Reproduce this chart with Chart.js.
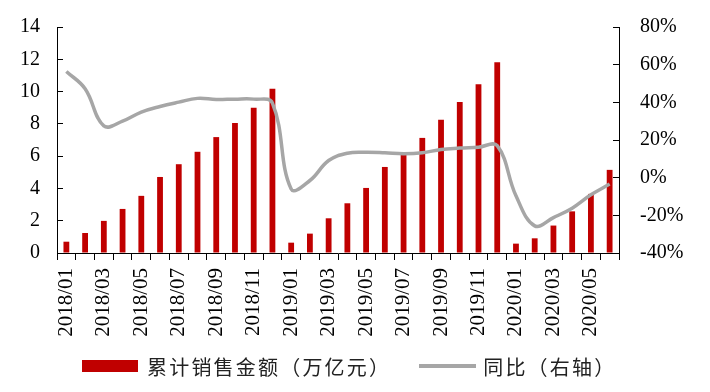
<!DOCTYPE html>
<html>
<head>
<meta charset="utf-8">
<script src="https://cdn.jsdelivr.net/npm/chart.js@4/dist/chart.umd.min.js"></script>
<style>
  body { margin: 0; background: #fff; }
  #wrap { position: relative; width: 710px; height: 392px; }
  #legend {
    position: absolute; left: 82px; top: 354px; height: 24px;
    display: flex; align-items: center;
    font-family: "Noto Sans CJK SC", sans-serif; font-size: 20px; color: #222;
    letter-spacing: 2.2px;
  }
  #legend .box { width: 56px; height: 12px; background: #C00000; margin-right: 9px; }
  #legend .ln { width: 57px; height: 4px; background: #A6A6A6; margin-left: 28px; margin-right: 7px; }
</style>
</head>
<body>
<div id="wrap">
  <canvas id="chart" width="710" height="392"></canvas>
  <div id="legend"><span class="box"></span><span>累计销售金额（万亿元）</span><span class="ln"></span><span>同比（右轴）</span></div>
</div>
<script>
// months on the x axis
var months = [
  '2018/01', '2018/02', '2018/03', '2018/04', '2018/05', '2018/06',
  '2018/07', '2018/08', '2018/09', '2018/10', '2018/11', '2018/12',
  '2019/01', '2019/02', '2019/03', '2019/04', '2019/05', '2019/06',
  '2019/07', '2019/08', '2019/09', '2019/10', '2019/11', '2019/12',
  '2020/01', '2020/02', '2020/03', '2020/04', '2020/05', '2020/06'
];

// cumulative sales, trillion yuan
var salesAmount = [
  0.70, 1.24, 1.99, 2.73, 3.54, 4.71, 5.50, 6.27, 7.18, 8.06, 9.00, 10.17,
  0.64, 1.20, 2.15, 3.08, 4.03, 5.33, 6.12, 7.13, 8.25, 9.35, 10.46, 11.81,
  0.58, 0.91, 1.70, 2.58, 3.66, 5.15
];

// year-on-year growth, %
var yoyGrowth = [
  56.4, 47.2, 27.5, 30.0, 34.8, 37.8, 40.1, 42.1, 41.5, 41.7, 41.7, 39.6,
  -6.0, -1.5, 9.1, 13.0, 13.5, 13.2, 12.7, 13.2, 15.0, 15.7, 16.2, 17.0,
  -9.6, -25.6, -21.2, -16.2, -9.1, -3.4
];

var leftTicks = [0, 2, 4, 6, 8, 10, 12, 14];
var rightTicks = [-40, -20, 0, 20, 40, 60, 80];

var serif = { family: '"Liberation Serif", "Times New Roman", serif', size: 20 };
var serifX = { family: '"Liberation Serif", "Times New Roman", serif', size: 21 };

// vertical axes: fixed width, no extra padding on top/bottom
function fixAxis(width) {
    return function (s) {
        s.width = width;
        s.paddingTop = 0;
        s.paddingBottom = 0;
    };
}

new Chart(document.getElementById('chart'), {
    type: 'bar',
    data: {
        labels: months,
        datasets: [{
            type: 'line',
            label: '同比（右轴）',
            data: yoyGrowth,
            yAxisID: 'y1',
            borderColor: '#A6A6A6',
            borderWidth: 3.5,
            pointRadius: 0,
            tension: 0.4,
            fill: false,
            order: 0
        }, {
            label: '累计销售金额（万亿元）',
            data: salesAmount,
            yAxisID: 'y',
            backgroundColor: '#C00000',
            barPercentage: 0.31,
            categoryPercentage: 1,
            order: 1
        }]
    },
    options: {
        responsive: false,
        animation: false,
        layout: { padding: { top: 27, bottom: 48, left: 0, right: 0 } },
        plugins: {
            legend: { display: false },
            tooltip: { enabled: false }
        },
        scales: {
            x: {
                offset: true,
                grid: {
                    offset: true, drawOnChartArea: false, tickLength: 7,
                    color: '#000', tickColor: '#000'
                },
                border: { color: '#000', width: 1 },
                ticks: {
                    autoSkip: false, maxRotation: 90, minRotation: 90,
                    padding: 8, color: '#000', font: serifX,
                    callback: function (v, i) { return i % 2 === 0 ? months[i] : ''; }
                },
                afterFit: function (s) { s.height = 91; }
            },
            y: {
                position: 'left',
                min: 0, max: 14,
                afterBuildTicks: function (s) { s.ticks = leftTicks.map(function (v) { return { value: v }; }); },
                grid: { drawOnChartArea: false, tickLength: -6, tickColor: '#000' },
                border: { color: '#000', width: 1 },
                ticks: { padding: 23, color: '#000', font: serif },
                afterFit: fixAxis(57)
            },
            y1: {
                position: 'right',
                min: -40, max: 80,
                afterBuildTicks: function (s) { s.ticks = rightTicks.map(function (v) { return { value: v }; }); },
                grid: { drawOnChartArea: false, tickLength: -6, tickColor: '#000' },
                border: { color: '#000', width: 1 },
                ticks: {
                    padding: 27, color: '#000', font: serif,
                    callback: function (v) { return v + '%'; }
                },
                afterFit: fixAxis(91)
            }
        }
    }
});
</script>
</body>
</html>
